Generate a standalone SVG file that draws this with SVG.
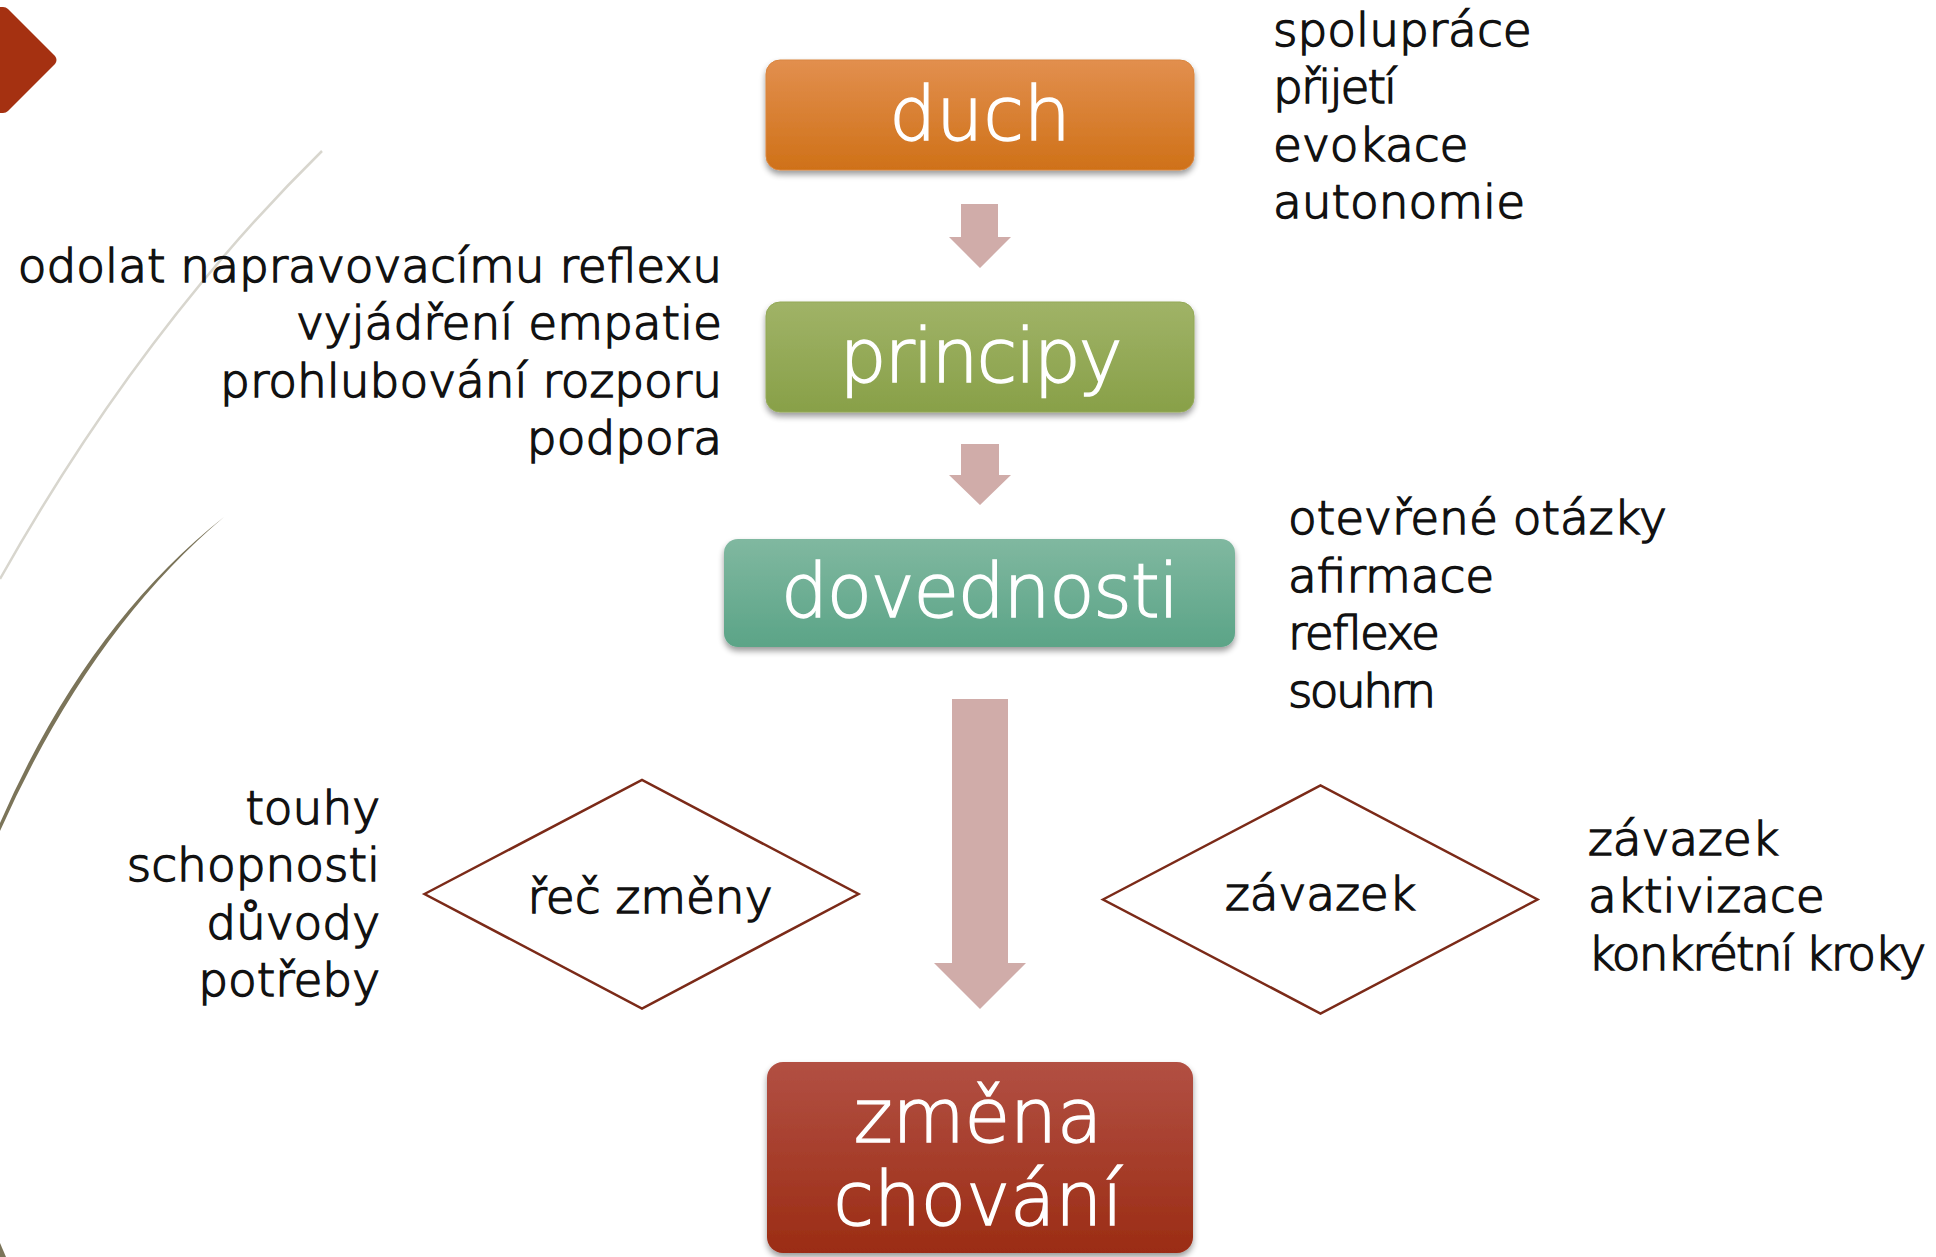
<svg xmlns="http://www.w3.org/2000/svg" width="1936" height="1257" viewBox="0 0 1936 1257">
<defs>
<style>
.t{font-family:"DejaVu Sans","Liberation Sans",sans-serif;font-size:47px;font-weight:200;fill:#111;stroke:#111;stroke-width:1.5}
.e{text-anchor:end}
.m{text-anchor:middle}
.bt{font-family:"DejaVu Sans","Liberation Sans",sans-serif;font-size:74px;font-weight:200;fill:#fff;stroke:#fff;stroke-width:1.4;text-anchor:middle}
.arr{fill:#d0aca9}
.dia{fill:#fff;stroke:#7b2a18;stroke-width:2.5}
</style>
<linearGradient id="gO" x1="0" y1="0" x2="0" y2="1"><stop offset="0" stop-color="#e28f4e"/><stop offset="1" stop-color="#cf7118"/></linearGradient>
<linearGradient id="gG" x1="0" y1="0" x2="0" y2="1"><stop offset="0" stop-color="#a0b367"/><stop offset="1" stop-color="#88a048"/></linearGradient>
<linearGradient id="gT" x1="0" y1="0" x2="0" y2="1"><stop offset="0" stop-color="#80b8a0"/><stop offset="1" stop-color="#5ba487"/></linearGradient>
<linearGradient id="gR" x1="0" y1="0" x2="0" y2="1"><stop offset="0" stop-color="#b25043"/><stop offset="1" stop-color="#9b2c14"/></linearGradient>
<filter id="sh" x="-10%" y="-10%" width="120%" height="135%">
<feGaussianBlur in="SourceAlpha" stdDeviation="3"/>
<feOffset dy="4" result="b"/>
<feComponentTransfer><feFuncA type="linear" slope="0.4"/></feComponentTransfer>
<feMerge><feMergeNode/><feMergeNode in="SourceGraphic"/></feMerge>
</filter>
</defs>
<rect width="1936" height="1257" fill="#fff"/>
<g id="decor">
<path d="M0,7 L3,7 Q6,7 8,9 L55,56 Q58,60 55,64 L8,111 Q6,113 3,113 L0,113 Z" fill="#a53111"/>
<path d="M322,151 Q140,330 0,579" fill="none" stroke="#d8d6ce" stroke-width="2.5"/>
<path d="M224,517 Q86,626 0,823 L0,831 Q90,630 224,517 Z" fill="#7b7459"/>
<path d="M0,1243 L6,1257 L0,1257 Z" fill="#7b7459"/>
</g>
<g id="connectors">
<path class="arr" d="M961,204 H998 V237 H1011 L980,268 L949,237 H961 Z"/>
<path class="arr" d="M961,444 H999 V475 H1011 L980,505 L949,475 H961 Z"/>
<path class="arr" d="M952,699 H1008 V963 H1026 L980,1009 L934,963 H952 Z"/>
</g>
<g id="duch">
<rect x="766" y="60" width="428" height="110" rx="14" fill="url(#gO)" stroke="#d9853e" stroke-width="1" filter="url(#sh)"/>
<text class="bt" x="980" y="140">duch</text>
</g>
<g id="principy">
<rect x="766" y="302" width="428" height="110" rx="14" fill="url(#gG)" stroke="#93a957" stroke-width="1" filter="url(#sh)"/>
<text class="bt" x="981" y="382" textLength="283">principy</text>
</g>
<g id="dovednosti">
<rect x="724" y="539" width="511" height="108" rx="14" fill="url(#gT)" filter="url(#sh)"/>
<text class="bt" x="980" y="617" textLength="398">dovednosti</text>
</g>
<g id="zmena-chovani">
<rect x="767" y="1062" width="426" height="191" rx="16" fill="url(#gR)" filter="url(#sh)"/>
<text class="bt" x="978" y="1142">změna</text>
<text class="bt" x="978" y="1225">chování</text>
</g>
<g id="rec-zmeny">
<polygon class="dia" points="424.5,894 642,780 858.5,894 642,1008.5"/>
<text class="t m" x="650" y="913">řeč změny</text>
</g>
<g id="zavazek">
<polygon class="dia" points="1103,899.5 1320.5,785.5 1537.5,899.5 1320.5,1013.5"/>
<text class="t m" x="1320.5" y="910">závazek</text>
</g>
<g id="list-duch">
<text class="t" x="1273" y="45.5">spolupráce</text>
<text class="t" x="1273" y="103" textLength="124">přijetí</text>
<text class="t" x="1273" y="160.5">evokace</text>
<text class="t" x="1273" y="218">autonomie</text>
</g>
<g id="list-principy">
<text class="t e" x="722" y="281.5">odolat napravovacímu reflexu</text>
<text class="t e" x="722" y="339">vyjádření empatie</text>
<text class="t e" x="722" y="396.5">prohlubování rozporu</text>
<text class="t e" x="722" y="454">podpora</text>
</g>
<g id="list-dovednosti">
<text class="t" x="1288" y="534">otevřené otázky</text>
<text class="t" x="1288" y="591.5">afirmace</text>
<text class="t" x="1288" y="649" textLength="152">reflexe</text>
<text class="t" x="1288" y="706.5" textLength="148">souhrn</text>
</g>
<g id="list-rec">
<text class="t e" x="380" y="823.5">touhy</text>
<text class="t e" x="380" y="881">schopnosti</text>
<text class="t e" x="380" y="938.5">důvody</text>
<text class="t e" x="380" y="996">potřeby</text>
</g>
<g id="list-zavazek">
<text class="t" x="1588" y="854.5">závazek</text>
<text class="t" x="1588" y="912">aktivizace</text>
<text class="t" x="1588" y="969.5" textLength="338">konkrétní kroky</text>
</g>
</svg>
